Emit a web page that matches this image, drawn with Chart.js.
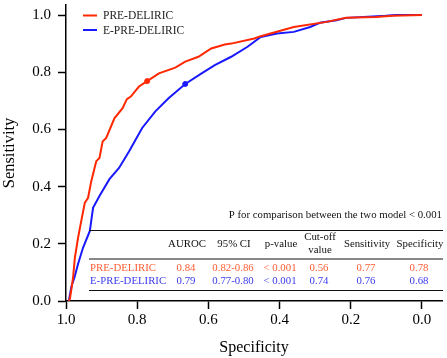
<!DOCTYPE html>
<html lang="en">
<head>
  <meta charset="UTF-8">
  <title>ROC PRE-DELIRIC vs E-PRE-DELIRIC</title>
  <script src="https://cdn.jsdelivr.net/npm/chart.js"></script>
  <style>
    html, body { margin: 0; padding: 0; background: #fff; }
    #wrap { width: 447px; height: 358px; }
  </style>
</head>
<body>
  <div id="wrap"><canvas id="rocChart" width="447" height="358"></canvas></div>
  <script>
    // curves (specificity, sensitivity)
    const redSpec = [0.992, 0.989, 0.984, 0.980, 0.975, 0.966, 0.956, 0.947, 0.938, 0.929, 0.915, 0.906, 0.897, 0.887, 0.864, 0.841, 0.829, 0.818, 0.795, 0.772, 0.739, 0.693, 0.665, 0.628, 0.592, 0.554, 0.536, 0.471, 0.453, 0.360, 0.268, 0.213, 0.129, 0.083, 0.0];
    const redSens = [0, 0.008, 0.048, 0.083, 0.152, 0.222, 0.287, 0.344, 0.361, 0.419, 0.489, 0.500, 0.558, 0.570, 0.639, 0.674, 0.706, 0.715, 0.750, 0.769, 0.796, 0.816, 0.837, 0.854, 0.883, 0.897, 0.900, 0.918, 0.926, 0.958, 0.976, 0.990, 0.993, 0.997, 1.0];
    const blueSpec = [0.992, 0.985, 0.976, 0.966, 0.952, 0.933, 0.924, 0.906, 0.878, 0.851, 0.823, 0.786, 0.749, 0.712, 0.665, 0.619, 0.582, 0.536, 0.490, 0.453, 0.407, 0.360, 0.314, 0.287, 0.240, 0.213, 0.102, 0.074, 0.0];
    const blueSens = [0, 0.05, 0.083, 0.130, 0.187, 0.245, 0.326, 0.367, 0.426, 0.465, 0.523, 0.605, 0.663, 0.709, 0.759, 0.796, 0.825, 0.854, 0.889, 0.923, 0.935, 0.941, 0.958, 0.973, 0.982, 0.990, 0.997, 1.0, 1.0];

    // cut-off points marked on the curves
    const redCut = [0.772, 0.769];
    const blueCut = [0.665, 0.759];

    const tickValues = [0, 0.2, 0.4, 0.6, 0.8, 1.0];

    const seriesNames = ['PRE-DELIRIC', 'E-PRE-DELIRIC'];
    const tableHeader = ['AUROC', '95% CI', 'p-value', ['Cut-off', 'value'], 'Sensitivity', 'Specificity'];
    const redRow = ['0.84', '0.82-0.86', '< 0.001', '0.56', '0.77', '0.78'];
    const blueRow = ['0.79', '0.77-0.80', '< 0.001', '0.74', '0.76', '0.68'];
    const pNote = 'P for comparison between the two model < 0.001';

    const RED = 'rgb(255,40,0)';
    const BLUE = 'rgb(25,25,255)';
    const RED_TXT = '#ff5c33';
    const BLUE_TXT = '#3a3aee';
    const FONT = "'Liberation Serif', 'DejaVu Serif', serif";

    const toPts = (xs, ys) => xs.map((x, i) => ({ x: x, y: ys[i] }));

    // legend + table drawn on top of the plot
    const overlay = {
      id: 'overlay',
      afterDatasetsDraw(chart) {
        const ctx = chart.ctx;
        ctx.save();
        // legend
        ctx.font = '11.5px ' + FONT;
        ctx.textBaseline = 'middle';
        ctx.textAlign = 'left';
        [[RED, 15.5], [BLUE, 30]].forEach(([c, y], i) => {
          ctx.strokeStyle = c;
          ctx.lineWidth = 2;
          ctx.beginPath();
          ctx.moveTo(83, y);
          ctx.lineTo(97, y);
          ctx.stroke();
          ctx.fillStyle = '#222';
          ctx.fillText(seriesNames[i], 103, y + 0.5);
        });

        // table
        ctx.font = '10.8px ' + FONT;
        ctx.fillStyle = '#111';
        ctx.textAlign = 'right';
        ctx.fillText(pNote, 442, 215);

        ctx.strokeStyle = '#111';
        ctx.lineWidth = 1.2;
        [230.5, 259, 290.5].forEach(y => {
          ctx.beginPath();
          ctx.moveTo(89, y);
          ctx.lineTo(443, y);
          ctx.stroke();
        });

        const cols = [187, 234, 281, 320, 367, 420];
        ctx.textAlign = 'center';
        tableHeader.forEach((h, i) => {
          if (Array.isArray(h)) {
            ctx.fillText(h[0], cols[i], 237);
            ctx.fillText(h[1], cols[i], 250);
          } else {
            ctx.fillText(h, cols[i], 244);
          }
        });
        [[redRow, RED_TXT, 268], [blueRow, BLUE_TXT, 281]].forEach(([row, c, y], r) => {
          ctx.fillStyle = c;
          ctx.textAlign = 'left';
          ctx.fillText(seriesNames[r], 90, y);
          ctx.textAlign = 'center';
          row.forEach((v, i) => ctx.fillText(v, cols[i] - 1, y));
        });
        ctx.restore();
      }
    };

    const ctx = document.getElementById('rocChart').getContext('2d');
    new Chart(ctx, {
      type: 'line',
      data: {
        datasets: [
          {
            label: seriesNames[0],
            data: toPts(redSpec, redSens),
            borderColor: RED,
            borderWidth: 2,
            pointRadius: 0,
            fill: false,
            tension: 0
          },
          {
            label: seriesNames[1],
            data: toPts(blueSpec, blueSens),
            borderColor: BLUE,
            borderWidth: 2,
            pointRadius: 0,
            fill: false,
            tension: 0
          },
          {
            type: 'scatter',
            data: [{ x: redCut[0], y: redCut[1] }],
            backgroundColor: RED,
            borderColor: RED,
            pointRadius: 2.5
          },
          {
            type: 'scatter',
            data: [{ x: blueCut[0], y: blueCut[1] }],
            backgroundColor: BLUE,
            borderColor: BLUE,
            pointRadius: 2.5
          }
        ]
      },
      options: {
        responsive: false,
        animation: false,
        layout: { padding: { top: 3, right: 0, left: 0, bottom: 0 } },
        plugins: {
          legend: { display: false },
          tooltip: { enabled: false }
        },
        scales: {
          x: {
            type: 'linear',
            reverse: true,
            min: -0.0563,
            max: 1.0,
            afterBuildTicks: s => { s.ticks = tickValues.map(v => ({ value: v })); },
            afterFit: s => { s.height = 57; s.paddingLeft = 0; s.paddingRight = 0; },
            grid: { drawOnChartArea: false, drawTicks: true, tickLength: 8, tickWidth: 1.5, color: '#000' },
            border: { display: true, color: '#000', width: 1.5 },
            ticks: {
              color: '#000',
              padding: 2,
              maxRotation: 0,
              font: { family: FONT, size: 15 },
              callback: v => Number(v).toFixed(1)
            },
            title: {
              display: true,
              text: 'Specificity',
              color: '#000',
              font: { family: FONT, size: 16 },
              padding: { top: 0, bottom: 1 }
            }
          },
          y: {
            type: 'linear',
            min: 0,
            max: 1.035,
            afterBuildTicks: s => { s.ticks = tickValues.map(v => ({ value: v })); },
            afterFit: s => { s.width = 66; s.paddingTop = 0; s.paddingBottom = 0; },
            grid: { drawOnChartArea: false, drawTicks: true, tickLength: 8, tickWidth: 1.5, color: '#000' },
            border: { display: true, color: '#000', width: 1.5 },
            ticks: {
              color: '#000',
              padding: 7,
              font: { family: FONT, size: 15 },
              callback: v => Number(v).toFixed(1)
            },
            title: {
              display: true,
              text: 'Sensitivity',
              color: '#000',
              font: { family: FONT, size: 16.5 },
              padding: { top: 0, bottom: 0 }
            }
          }
        }
      },
      plugins: [overlay]
    });
  </script>
</body>
</html>
